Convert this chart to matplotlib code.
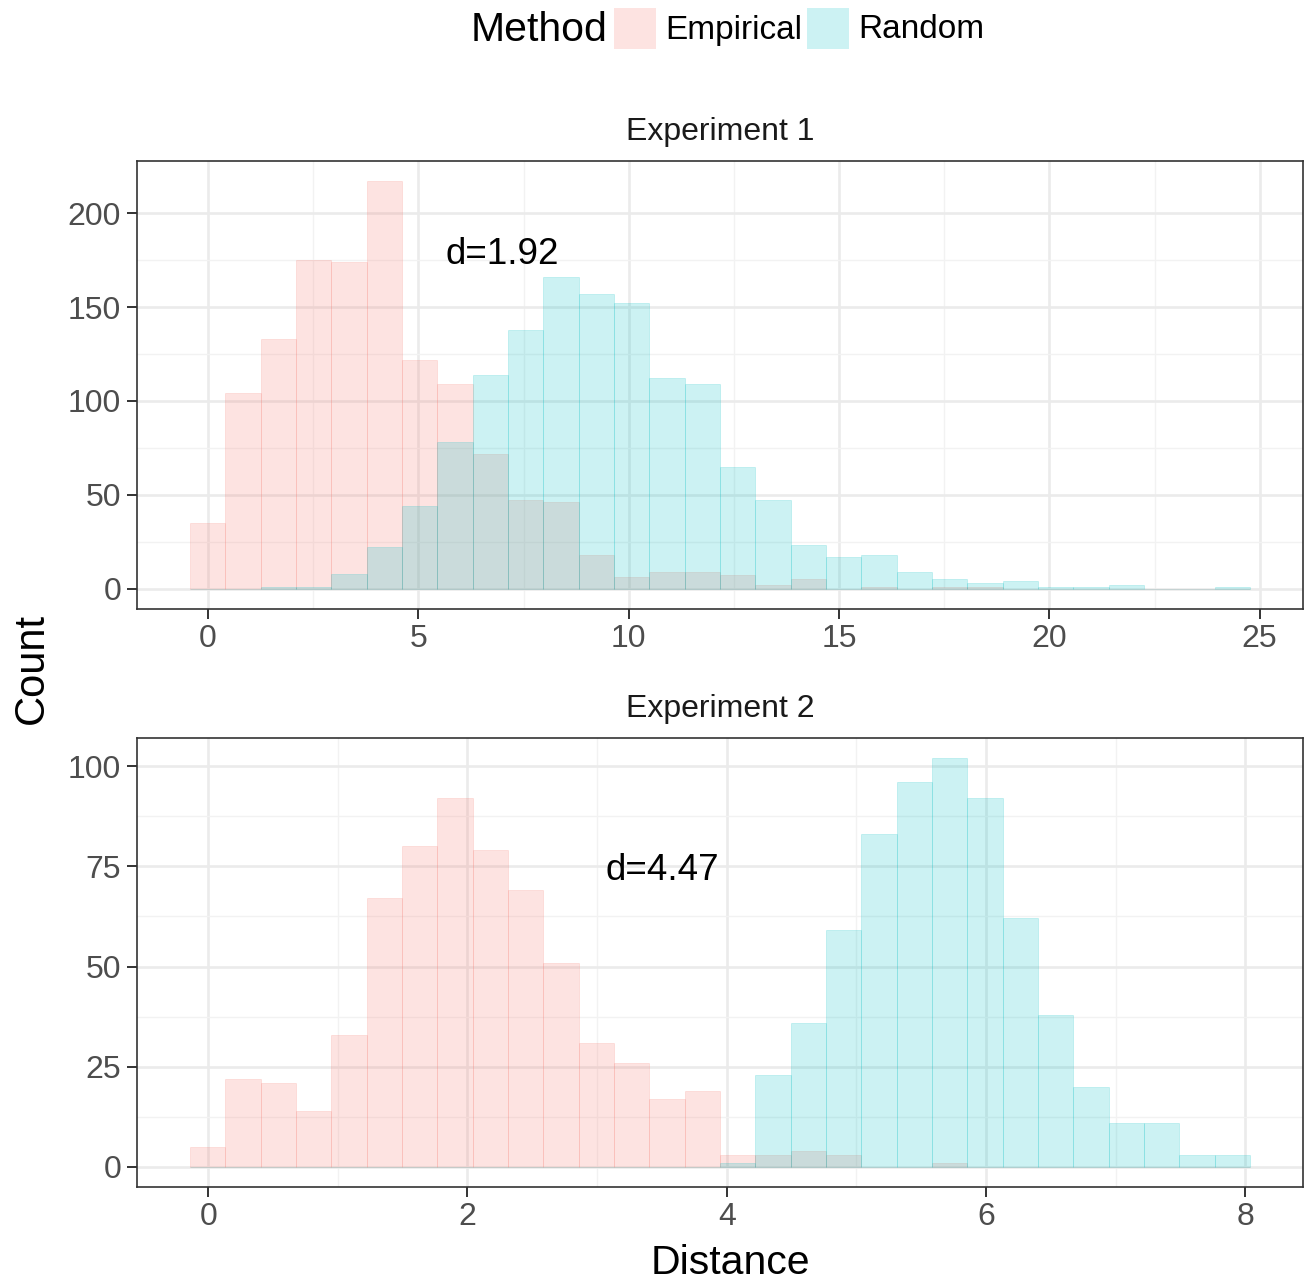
import numpy as np
import matplotlib
matplotlib.use("Agg")
import matplotlib.pyplot as plt
from matplotlib.patches import Rectangle

plt.rcParams['font.family'] = ['Liberation Sans', 'DejaVu Sans']

# ---- data (30 bins per experiment, counts) ----
methods = ["Empirical", "Random"]
colors = ["#F8766D", "#00BFC4"]

exp1_start, exp1_width = -0.43, 0.84
exp1_empirical = [35, 104, 133, 175, 174, 217, 122, 109, 72, 47, 46, 18, 6, 9, 9,
                  7, 2, 5, 0, 1, 0, 1, 1, 0, 0, 0, 0, 0, 0, 0]
exp1_random = [0, 0, 1, 1, 8, 22, 44, 78, 114, 138, 166, 157, 152, 112, 109,
               65, 47, 23, 17, 18, 9, 5, 3, 4, 1, 1, 2, 0, 0, 1]
exp1_ticks = [0, 5, 10, 15, 20, 25]
exp1_yticks = [0, 50, 100, 150, 200]
exp1_label = ("d=1.92", 7.0, 178)

exp2_start, exp2_width = -0.14, 0.2725
exp2_empirical = [5, 22, 21, 14, 33, 67, 80, 92, 79, 69, 51, 31, 26, 17, 19,
                  3, 3, 4, 3, 0, 0, 1, 0, 0, 0, 0, 0, 0, 0, 0]
exp2_random = [0, 0, 0, 0, 0, 0, 0, 0, 0, 0, 0, 0, 0, 0, 0,
               1, 23, 36, 59, 83, 96, 102, 92, 62, 38, 20, 11, 11, 3, 3]
exp2_ticks = [0, 2, 4, 6, 8]
exp2_yticks = [0, 25, 50, 75, 100]
exp2_label = ("d=4.47", 3.5, 74)

W, H = 1304, 1283
fig = plt.figure(figsize=(W / 100, H / 100), dpi=100)

def panel(rect, title, start, width, emp, rnd, xt, yt, label):
    ax = fig.add_axes(rect)
    n = len(emp)
    edges = start + width * np.arange(n)
    for counts, c in zip([emp, rnd], colors):
        ax.bar(edges, counts, width=width, align='edge', color=c, alpha=0.2,
               edgecolor=c, linewidth=0.6, zorder=3)
    lo, hi = edges[0], edges[-1] + width
    r = hi - lo
    top = max(max(emp), max(rnd))
    ax.set_xlim(lo - 0.05 * r, hi + 0.05 * r)
    ax.set_ylim(-0.05 * top, 1.05 * top)
    ax.set_xticks(xt)
    ax.set_yticks(yt)
    ax.set_xticks([(a + b) / 2 for a, b in zip(xt[:-1], xt[1:])], minor=True)
    ax.set_yticks([(a + b) / 2 for a, b in zip(yt[:-1], yt[1:])], minor=True)
    ax.grid(which='major', color='#EBEBEB', linewidth=1.9, zorder=0)
    ax.grid(which='minor', color='#F2F2F2', linewidth=1.0, zorder=0)
    ax.set_axisbelow(True)
    ax.tick_params(which='major', length=7.5, width=1.4, color='#333333',
                   labelsize=23, labelcolor='#4D4D4D', pad=4)
    ax.tick_params(axis='x', which='major', pad=3)
    ax.tick_params(which='minor', length=0)
    for s in ax.spines.values():
        s.set_color('#333333')
        s.set_linewidth(1.2)
    ax.set_title(title, fontsize=23, color='#1A1A1A', pad=15)
    ax.text(label[1], label[2], label[0], fontsize=26.5, ha='center', va='center',
            color='black', zorder=5)
    return ax

left, width = 137 / W, 1166 / W
panel([left, 1 - 609 / H, width, 448 / H], "Experiment 1", exp1_start, exp1_width,
      exp1_empirical, exp1_random, exp1_ticks, exp1_yticks, exp1_label)
panel([left, 1 - 1187 / H, width, 449 / H], "Experiment 2", exp2_start, exp2_width,
      exp2_empirical, exp2_random, exp2_ticks, exp2_yticks, exp2_label)

fig.text(32 / W, 1 - 668 / H, "Count", rotation=90, fontsize=30, ha='center', va='center')
fig.text(730 / W, 1 - 1263 / H, "Distance", fontsize=29.5, ha='center', va='center')

# legend on top
yc = 1 - 30 / H
fig.text(471 / W, yc, "Method", fontsize=29.5, ha='left', va='center')
for x0, name, c in zip([614, 807], methods, colors):
    fig.patches.append(Rectangle((x0 / W, 1 - 49 / H), 42 / W, 41 / H,
                                 transform=fig.transFigure, facecolor=c, alpha=0.2,
                                 edgecolor='none'))
    fig.text((x0 + 51) / W, yc, name, fontsize=24, ha='left', va='center')

fig.savefig("out.png", dpi=100)
